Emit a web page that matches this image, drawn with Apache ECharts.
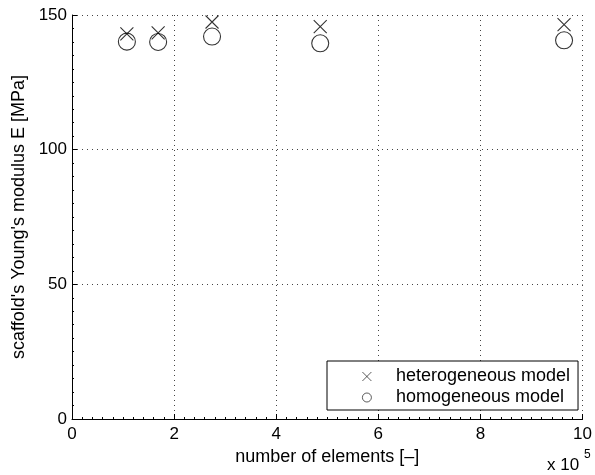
<!DOCTYPE html>
<html>
<head>
<meta charset="utf-8">
<script src="https://cdn.jsdelivr.net/npm/echarts@6/dist/echarts.min.js"></script>
<style>
html,body{margin:0;padding:0;background:#fff;}
#chart{width:595px;height:475px;}
</style>
</head>
<body>
<div id="chart"></div>
<script>
// number of elements, in units of 1e5
const nElements = [1.075, 1.687, 2.743, 4.862, 9.638];
const heteroE = [143.0, 143.4, 147.4, 145.7, 146.4];
const homoE = [140.1, 140.0, 142.0, 139.5, 140.6];
const seriesNames = ['heterogeneous model', 'homogeneous model'];
const xTicks = [0, 2, 4, 6, 8, 10];
const yTicks = [0, 50, 100, 150];

const FONT = '"Liberation Sans", Arial, Helvetica, sans-serif';
const chart = echarts.init(document.getElementById('chart'), null, {renderer: 'canvas'});

const dotted = {type: [1, 4], color: '#444', width: 1};

const option = {
  backgroundColor: '#fff',
  animation: false,
  textStyle: {fontFamily: FONT},
  grid: {left: 72, right: 11.5, top: 15, bottom: 56, containLabel: false},
  xAxis: {
    type: 'value',
    min: xTicks[0], max: xTicks[xTicks.length - 1], interval: 2,
    name: 'number of elements [\u2013]',
    nameLocation: 'middle', nameGap: 26,
    nameTextStyle: {fontSize: 18, color: '#000', fontFamily: FONT},
    axisLine: {show: true, onZero: false, lineStyle: {color: '#000', width: 1}},
    axisTick: {show: true, inside: true, length: 5, lineStyle: {color: '#000'}},
    minorTick: {show: true, splitNumber: 10, length: 2, lineStyle: {color: '#000'}},
    axisLabel: {fontSize: 17, color: '#000', margin: 7, fontFamily: FONT},
    splitLine: {show: true, lineStyle: dotted}
  },
  yAxis: {
    type: 'value',
    min: yTicks[0], max: yTicks[yTicks.length - 1], interval: 50,
    name: "scaffold's Young's modulus E [MPa]",
    nameLocation: 'middle', nameGap: 43,
    nameTextStyle: {fontSize: 18, color: '#000', fontFamily: FONT},
    axisLine: {show: true, onZero: false, lineStyle: {color: '#000', width: 1}},
    axisTick: {show: true, inside: true, length: 5, lineStyle: {color: '#000'}},
    minorTick: {show: true, splitNumber: 10, length: 2, lineStyle: {color: '#000'}},
    axisLabel: {fontSize: 17, color: '#000', margin: 5, fontFamily: FONT},
    splitLine: {show: true, lineStyle: dotted}
  },
  legend: {
    show: true,
    selectedMode: false,
    orient: 'vertical',
    left: 327,
    top: 361,
    padding: [5, 8, 2, 35],
    itemWidth: 48,
    itemHeight: 9,
    itemGap: 0,
    backgroundColor: '#fff',
    borderColor: '#000',
    borderWidth: 1,
    borderRadius: 0,
    itemStyle: {borderWidth: 0.8},
    textStyle: {fontSize: 18, color: '#000', lineHeight: 21, fontFamily: FONT},
    data: seriesNames
  },
  series: [
    {
      name: seriesNames[0],
      type: 'scatter',
      symbol: 'path://M0,0L10,10M10,0L0,10',
      symbolSize: 13,
      itemStyle: {color: 'transparent', borderColor: '#000', borderWidth: 1.1},
      data: nElements.map((x, i) => [x, heteroE[i]]),
      z: 3
    },
    {
      name: seriesNames[1],
      type: 'scatter',
      symbol: 'circle',
      symbolSize: 17,
      itemStyle: {color: 'transparent', borderColor: '#000', borderWidth: 1.1},
      data: nElements.map((x, i) => [x, homoE[i]]),
      z: 2
    }
  ],
  graphic: [
    {type: 'text', left: 547, top: 457, style: {text: 'x 10', fontSize: 17, fill: '#000', fontFamily: FONT}},
    {type: 'text', left: 584, top: 449, style: {text: '5', fontSize: 12, fill: '#000', fontFamily: FONT}}
  ]
};
chart.setOption(option);
</script>
</body>
</html>
